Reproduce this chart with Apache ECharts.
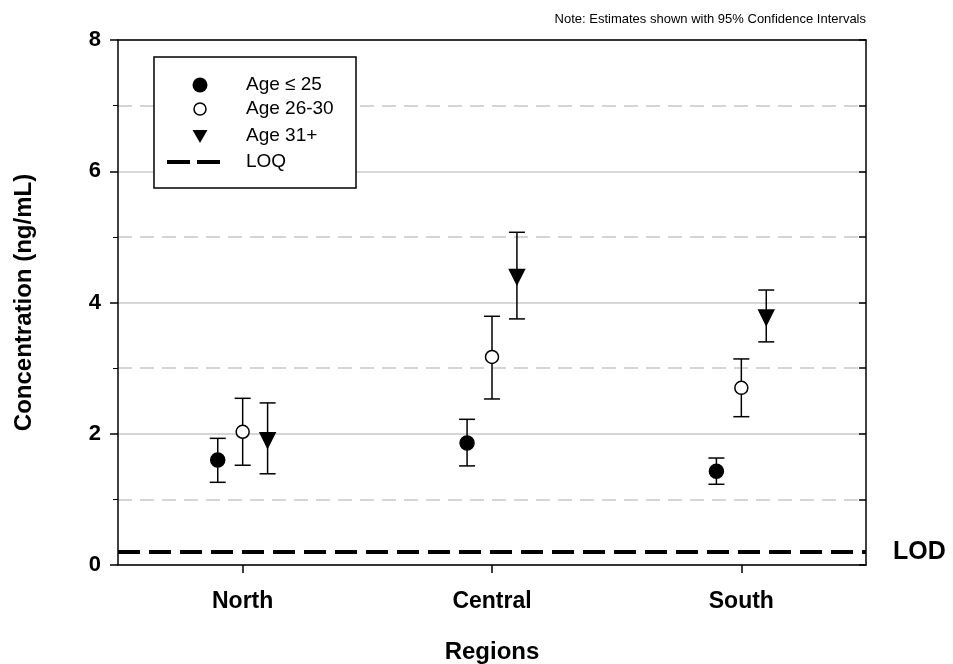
<!DOCTYPE html>
<html>
<head>
<meta charset="utf-8">
<script src="https://cdn.jsdelivr.net/npm/echarts@6/dist/echarts.min.js"></script>
<style>html,body{margin:0;padding:0;background:#fff}#c{width:953px;height:664px}</style>
</head>
<body>
<div id="c"></div>
<script>
// ---- data ----
const regions = ['North', 'Central', 'South'];
const groupOffsets = [-0.1, 0, 0.1];
const seriesNames = ['Age \u2264 25', 'Age 26-30', 'Age 31+'];
const age25Mean = [1.60, 1.86, 1.43];
const age25Low  = [1.26, 1.51, 1.23];
const age25High = [1.93, 2.22, 1.63];
const age2630Mean = [2.03, 3.17, 2.70];
const age2630Low  = [1.52, 2.53, 2.26];
const age2630High = [2.54, 3.79, 3.14];
const age31Mean = [1.90, 4.39, 3.77];
const age31Low  = [1.39, 3.75, 3.40];
const age31High = [2.47, 5.07, 4.19];
const lodValue = 0.2;
const yTicks = [0, 2, 4, 6, 8];

const FONT = '"Liberation Sans", Arial, sans-serif';
const chart = echarts.init(document.getElementById('c'));

function pts(mean, gi) { return mean.map((v, i) => [i + 1 + groupOffsets[gi], v]); }
function errs(low, high, gi) { return low.map((l, i) => [i + 1 + groupOffsets[gi], l, high[i]]); }

const errRender = function (params, api) {
  const x = api.value(0);
  const lo = api.coord([x, api.value(1)]);
  const hi = api.coord([x, api.value(2)]);
  const cap = 8;
  const st = { stroke: '#000', lineWidth: 1.5 };
  return {
    type: 'group',
    children: [
      { type: 'line', shape: { x1: lo[0], y1: lo[1], x2: hi[0], y2: hi[1] }, style: st },
      { type: 'line', shape: { x1: lo[0] - cap, y1: lo[1], x2: lo[0] + cap, y2: lo[1] }, style: st },
      { type: 'line', shape: { x1: hi[0] - cap, y1: hi[1], x2: hi[0] + cap, y2: hi[1] }, style: st }
    ]
  };
};

const allErr = [
  errs(age25Low, age25High, 0),
  errs(age2630Low, age2630High, 1),
  errs(age31Low, age31High, 2)
];
const allPts = [pts(age25Mean, 0), pts(age2630Mean, 1), pts(age31Mean, 2)];
const symbols = [
  { symbol: 'circle', color: '#000', border: '#000', size: 14, rotate: 0 },
  { symbol: 'circle', color: '#fff', border: '#000', size: 13, rotate: 0 },
  { symbol: 'triangle', color: '#000', border: '#000', size: 15, rotate: 180 }
];

const series = [];
allErr.forEach((d, i) => {
  series.push({ type: 'custom', name: seriesNames[i] + ' CI', data: d, renderItem: errRender, z: 2, silent: true });
});
allPts.forEach((d, i) => {
  const s = symbols[i];
  series.push({
    type: 'scatter', name: seriesNames[i], data: d, symbol: s.symbol, symbolSize: s.size,
    symbolRotate: s.rotate, itemStyle: { color: s.color, borderColor: s.border, borderWidth: 1.5, opacity: 1 }, z: 5
  });
});
series.push({
  type: 'line', name: 'LOQ', data: [[0.5, lodValue], [3.5, lodValue]], symbol: 'none', z: 4,
  lineStyle: { color: '#000', width: 4, type: [22, 9], cap: 'butt' },
  endLabel: { show: true, formatter: 'LOD', distance: 27, color: '#000', fontFamily: FONT, fontWeight: 'bold', fontSize: 25 }
});

chart.setOption({
  backgroundColor: '#fff',
  animation: false,
  grid: { left: 118, right: 87, top: 40, bottom: 99, outerBoundsMode: 'none', containLabel: false },
  xAxis: [{
    type: 'value', min: 0.5, max: 3.5,
    axisLine: { show: true, lineStyle: { color: '#000', width: 1.5 } },
    axisTick: { show: true, customValues: [1, 2, 3], length: 8, lineStyle: { color: '#000', width: 1.5 } },
    axisLabel: { customValues: [1, 2, 3], formatter: v => regions[Math.round(v) - 1], margin: 25,
      color: '#000', fontFamily: FONT, fontWeight: 'bold', fontSize: 23 },
    splitLine: { show: false },
    name: 'Regions', nameLocation: 'middle', nameGap: 75,
    nameTextStyle: { color: '#000', fontFamily: FONT, fontWeight: 'bold', fontSize: 24 }
  }, {
    type: 'value', min: 0.5, max: 3.5, position: 'top',
    axisLine: { show: true, onZero: false, lineStyle: { color: '#000', width: 1.5 } },
    axisTick: { show: false }, axisLabel: { show: false }, splitLine: { show: false }
  }],
  yAxis: [{
    type: 'value', min: 0, max: 8, interval: 2,
    axisLine: { show: true, lineStyle: { color: '#000', width: 1.5 } },
    axisTick: { show: true, length: 8, lineStyle: { color: '#000', width: 1.5 } },
    minorTick: { show: true, splitNumber: 2, length: 5, lineStyle: { color: '#000', width: 1 } },
    axisLabel: { customValues: yTicks, margin: 17, color: '#000', fontFamily: FONT, fontWeight: 'bold', fontSize: 22 },
    splitLine: { show: true, lineStyle: { color: '#c8c8c8', width: 1.5 } },
    minorSplitLine: { show: true, lineStyle: { color: '#c8c8c8', width: 1.5, type: [14, 8] } },
    name: 'Concentration (ng/mL)', nameLocation: 'middle', nameGap: 82, nameRotate: 90,
    nameTextStyle: { color: '#000', fontFamily: FONT, fontWeight: 'bold', fontSize: 24 }
  }, {
    type: 'value', min: 0, max: 8, interval: 2, position: 'right',
    axisLine: { show: true, onZero: false, lineStyle: { color: '#000', width: 1.5 } },
    axisTick: { show: true, inside: true, length: 7, lineStyle: { color: '#000', width: 1.5 } },
    minorTick: { show: true, splitNumber: 2, length: 7, lineStyle: { color: '#000', width: 1.5 } },
    axisLabel: { show: false }, splitLine: { show: false }
  }],
  series: series,
  graphic: [
    { type: 'text', right: 953 - 866, top: 13, style: { text: 'Note: Estimates shown with 95% Confidence Intervals',
      fill: '#000', font: '13px ' + FONT } },
    { type: 'rect', shape: { x: 154, y: 57, width: 202, height: 131 }, style: { fill: '#fff', stroke: '#000', lineWidth: 1.5 }, z: 10 },
    { type: 'circle', shape: { cx: 200, cy: 85, r: 7.5 }, style: { fill: '#000' }, z: 11 },
    { type: 'circle', shape: { cx: 200, cy: 109, r: 6 }, style: { fill: '#fff', stroke: '#000', lineWidth: 1.5 }, z: 11 },
    { type: 'polygon', shape: { points: [[192.5, 130], [207.5, 130], [200, 143]] }, style: { fill: '#000' }, z: 11 },
    { type: 'line', shape: { x1: 167, y1: 162, x2: 220, y2: 162 }, style: { stroke: '#000', lineWidth: 4, lineDash: [23, 7] }, z: 11 },
    { type: 'text', x: 246, y: 85, style: { text: 'Age \u2264 25', fill: '#000', font: '19px ' + FONT, verticalAlign: 'middle' }, z: 11 },
    { type: 'text', x: 246, y: 109, style: { text: 'Age 26-30', fill: '#000', font: '19px ' + FONT, verticalAlign: 'middle' }, z: 11 },
    { type: 'text', x: 246, y: 136, style: { text: 'Age 31+', fill: '#000', font: '19px ' + FONT, verticalAlign: 'middle' }, z: 11 },
    { type: 'text', x: 246, y: 162, style: { text: 'LOQ', fill: '#000', font: '19px ' + FONT, verticalAlign: 'middle' }, z: 11 }
  ]
});
</script>
</body>
</html>
